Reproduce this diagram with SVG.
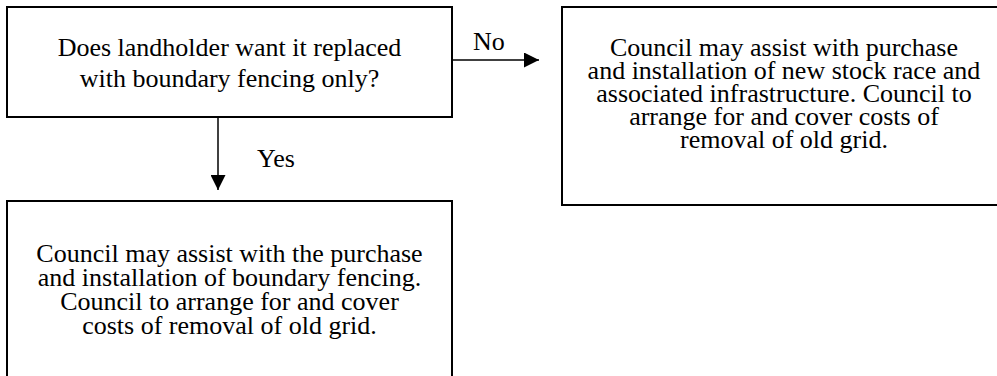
<svg xmlns="http://www.w3.org/2000/svg" width="997" height="376" viewBox="0 0 997 376">
<defs>
<style>
.box{fill:#fff;stroke:#000;stroke-width:2}
.t{font-size:26px;fill:#000;text-anchor:middle}
.lbl{font-size:26px;fill:#000}
.c{stroke:#000;stroke-width:1.5;fill:none}
</style>
<marker id="ah" viewBox="0 0 10 10" refX="10" refY="5" markerUnits="userSpaceOnUse" markerWidth="15" markerHeight="15" orient="auto">
<path d="M0,0 L10,5 L0,10 Z" fill="#000"/>
</marker>
</defs>
<rect width="997" height="376" fill="#fff"/>
<g font-family="Liberation Serif, Times New Roman, serif">
<g id="q">
<rect class="box" x="7" y="7" width="445" height="110"/>
<text class="t" x="229.5" y="56">Does landholder want it replaced</text>
<text class="t" x="229.5" y="87">with boundary fencing only?</text>
</g>
<g id="no">
<rect class="box" x="562" y="7" width="445" height="198"/>
<text class="t" x="784" y="56">Council may assist with  purchase</text>
<text class="t" x="784" y="79">and installation of new stock race and</text>
<text class="t" x="784" y="102">associated infrastructure. Council to</text>
<text class="t" x="784" y="125">arrange for and cover costs of</text>
<text class="t" x="784" y="148">removal of old grid.</text>
</g>
<g id="yes">
<rect class="box" x="7" y="201" width="445" height="190"/>
<text class="t" x="229.5" y="262">Council may assist with the purchase</text>
<text class="t" x="229.5" y="286">and installation of boundary fencing.</text>
<text class="t" x="229.5" y="310">Council to arrange for and cover</text>
<text class="t" x="229.5" y="334">costs of removal of old grid.</text>
</g>
<g id="connectors">
<line class="c" x1="452" y1="60" x2="539" y2="60" marker-end="url(#ah)"/>
<line class="c" x1="218" y1="117" x2="218" y2="190" marker-end="url(#ah)"/>
<text class="lbl" x="473" y="50">No</text>
<text class="lbl" x="257" y="167">Yes</text>
</g>
</g>
</svg>
